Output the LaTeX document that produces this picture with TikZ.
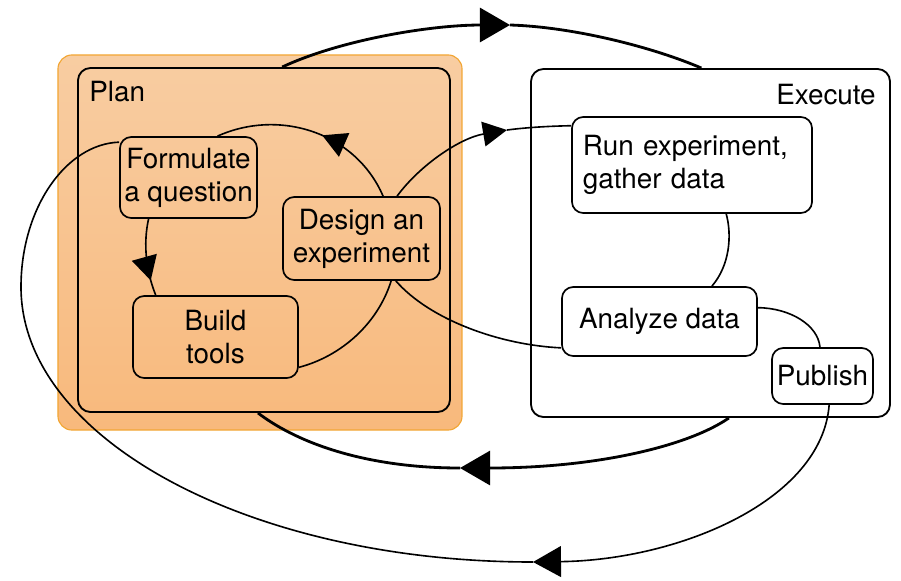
\documentclass[tikz,border=0pt]{standalone}
\usepackage{fontspec}
\setmainfont{TeX Gyre Heros}
\usetikzlibrary{arrows.meta}
\usetikzlibrary{decorations.markings}

\definecolor{planlight}{RGB}{248,205,162}
\definecolor{plandark}{RGB}{248,185,124}
\definecolor{planedge}{RGB}{242,166,52}

\tikzset{
  group/.style={draw, line width=1.3pt, rounded corners=9pt, inner sep=0pt},
  stage/.style={draw, line width=1.2pt, rounded corners=8pt, align=center, inner sep=2pt,
    font=\fontsize{19.8}{23.5}\selectfont},
  tag/.style={inner sep=0pt, font=\fontsize{19.8}{23.5}\selectfont},
  flow/.style={line width=1.15pt},
  mainflow/.style={line width=2pt},
  bigtip/.tip={Triangle[length=0.75cm, width=0.85cm]},
  smalltip/.tip={Triangle[length=0.6cm, width=0.64cm]},
  midtip/.style={postaction={decorate}, decoration={markings,
    mark=at position #1 with {\arrow{smalltip}}}}
}

\begin{document}
\begin{tikzpicture}[x=0.025cm, y=-0.025cm]
\useasboundingbox (0,0) rectangle (901,580);

% the two phases
\node[group, draw=planedge, line width=0.8pt, rounded corners=10pt, top color=planlight, bottom color=plandark,
  minimum width=10.1cm, minimum height=9.375cm] (planbg) at (260,242.5) {};
\node[group, minimum width=9.3cm, minimum height=8.6cm] (plan) at (264,240) {};
\node[group, fill=white, minimum width=8.975cm, minimum height=8.7cm] (exec) at (710.5,243) {};
\node[tag, anchor=north west] (plantag) at ([shift={(12,14)}]plan.north west) {Plan};
\node[tag, anchor=north east] (exectag) at ([shift={(-15,16)}]exec.north east) {Execute};

% steps
\node[stage, minimum width=3.425cm, minimum height=2.025cm] (fq) at (188.5,177.5) {Formulate\\a question};
\node[stage, minimum width=3.925cm, minimum height=2.075cm] (de) at (361.5,238.5) {Design an\\experiment};
\node[stage, minimum width=4.125cm, minimum height=2.05cm] (bt) at (215.5,337) {Build\\tools};
\node[stage, fill=white, minimum width=6cm, minimum height=2.4cm, text width=5.45cm, align=left] (run) at (692,165) {Run experiment,\\gather data};
\node[stage, fill=white, minimum width=4.875cm, minimum height=1.725cm] (an) at (659.5,321.5) {Analyze data};
\node[stage, fill=white, minimum width=2.525cm, minimum height=1.4cm] (pub) at (822.5,376) {Publish};

% planning loop
\draw[flow, midtip=0.45] (de.63) .. controls (356,133) and (280,108) .. (fq.55);
\draw[flow, midtip=0.8] (fq.-134) .. controls (143,244) and (146,271) .. (bt.145);
\draw[flow] (bt.-20) .. controls (342,356) and (378,323) .. (de.-55);

% into and inside execute
\coordinate (runtip) at (507,130);
\draw[flow, -{Triangle[length=0.6cm, width=0.62cm]}] (de.50) .. controls (420,165) and (460,138) .. (runtip);
\draw[flow] (runtip) .. controls (530,127) and (555,126) .. (run.162);
\draw[flow] (run.-55) .. controls (732,235) and (730,265) .. (an.34);
\draw[flow] (an.195) .. controls (500,345) and (430,320) .. (de.-51);
\draw[flow] (an.8) .. controls (790,308) and (818,325) .. (pub.95);

% big loops between the phases
\coordinate (overtip) at (510,25);
\draw[mainflow, -bigtip] (plan.84) .. controls (340,40) and (430,25) .. (overtip);
\draw[mainflow] (overtip) .. controls (575,27) and (655,48) .. (exec.93);

\coordinate (backtip) at (460,468);
\draw[mainflow, -bigtip] (exec.-84) .. controls (690,445) and (600,468) .. (backtip);
\draw[mainflow] (backtip) .. controls (370,468) and (300,445) .. (plan.-92);

\coordinate (pubtip) at (533,562);
\draw[flow, -{Triangle[length=0.7cm, width=0.77cm]}] (pub.-77) .. controls (822,500) and (680,560) .. (pubtip);
\draw[flow] (pubtip) .. controls (250,562) and (21,439) .. (21,287)
  .. controls (21,208) and (66,144) .. (fq.153);
\end{tikzpicture}
\end{document}
